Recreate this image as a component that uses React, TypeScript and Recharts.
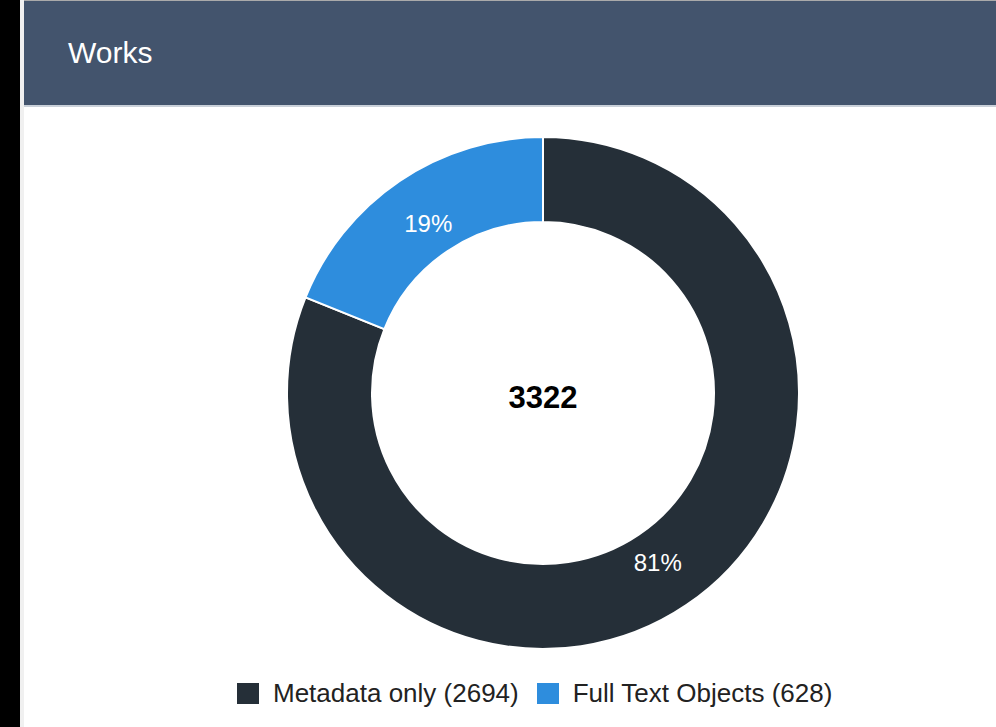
import { Cell, Label, Legend, Pie, PieChart } from 'recharts';

const categories = ['Metadata only', 'Full Text Objects'];
const counts = [2694, 628];
const colors = ['#252f38', '#2e8ddd'];
const total = 3322;

const data = categories.map((name, i) => ({ name, value: counts[i] }));

const RADIAN = Math.PI / 180;
const CX = 519;
const CY = 286;
const FONT = "'Liberation Sans', Arial, sans-serif";

function renderPercent(props: any) {
  const { cx, cy, midAngle, innerRadius, outerRadius, percent } = props;
  const r = innerRadius + (outerRadius - innerRadius) * 0.4;
  const x = cx + r * Math.cos(-midAngle * RADIAN);
  const y = cy + r * Math.sin(-midAngle * RADIAN);
  return (
    <text
      x={x}
      y={y}
      fill="#ffffff"
      textAnchor="middle"
      dominantBaseline="central"
      fontSize={24}
      fontFamily={FONT}
    >
      {`${Math.round(percent * 100)}%`}
    </text>
  );
}

function renderCenter() {
  return (
    <text
      x={CX}
      y={CY + 4}
      fill="#000000"
      textAnchor="middle"
      dominantBaseline="central"
      fontSize={31}
      fontWeight={700}
      fontFamily={FONT}
    >
      {total}
    </text>
  );
}

function renderLegend() {
  return (
    <div style={{ display: 'flex', alignItems: 'center', paddingLeft: 213, gap: 18 }}>
      {data.map((entry, i) => (
        <div key={entry.name} style={{ display: 'flex', alignItems: 'center', gap: 14 }}>
          <span style={{ width: 22, height: 21, background: colors[i], display: 'inline-block' }} />
          <span style={{ fontSize: 26, color: '#222222', fontFamily: FONT }}>
            {`${entry.name} (${entry.value})`}
          </span>
        </div>
      ))}
    </div>
  );
}

export default function App() {
  return (
    <div
      style={{
        position: 'fixed',
        left: 0,
        top: 0,
        width: 996,
        height: 727,
        background: '#000000',
        fontFamily: FONT,
        overflow: 'hidden',
      }}
    >
      <div
        style={{
          position: 'absolute',
          left: 20,
          top: 0,
          width: 976,
          height: 727,
          background: '#f0f0f0',
        }}
      />
      <div
        style={{
          position: 'absolute',
          left: 24,
          top: 0,
          width: 972,
          height: 727,
          background: '#ffffff',
          borderTop: '1px solid #aaaaaa',
          boxSizing: 'border-box',
        }}
      >
        <div
          style={{
            height: 106,
            background: '#43546d',
            borderBottom: '2px solid #c9d0d9',
            boxSizing: 'border-box',
            display: 'flex',
            alignItems: 'center',
            paddingLeft: 44,
            color: '#ffffff',
            fontSize: 30,
          }}
        >
          Works
        </div>
        <PieChart width={972} height={620} margin={{ top: 0, right: 0, bottom: 0, left: 0 }}>
          <Pie
            data={data}
            dataKey="value"
            nameKey="name"
            cx={CX}
            cy={CY}
            innerRadius={171}
            outerRadius={256}
            startAngle={90}
            endAngle={-270}
            stroke="#ffffff"
            strokeWidth={2}
            label={renderPercent}
            labelLine={false}
            isAnimationActive={false}
          >
            {data.map((entry, i) => (
              <Cell key={entry.name} fill={colors[i]} />
            ))}
            <Label position="center" content={renderCenter} />
          </Pie>
          <Legend
            content={renderLegend}
            wrapperStyle={{ top: 571, left: 0, width: 972, height: 30 }}
          />
        </PieChart>
      </div>
    </div>
  );
}
